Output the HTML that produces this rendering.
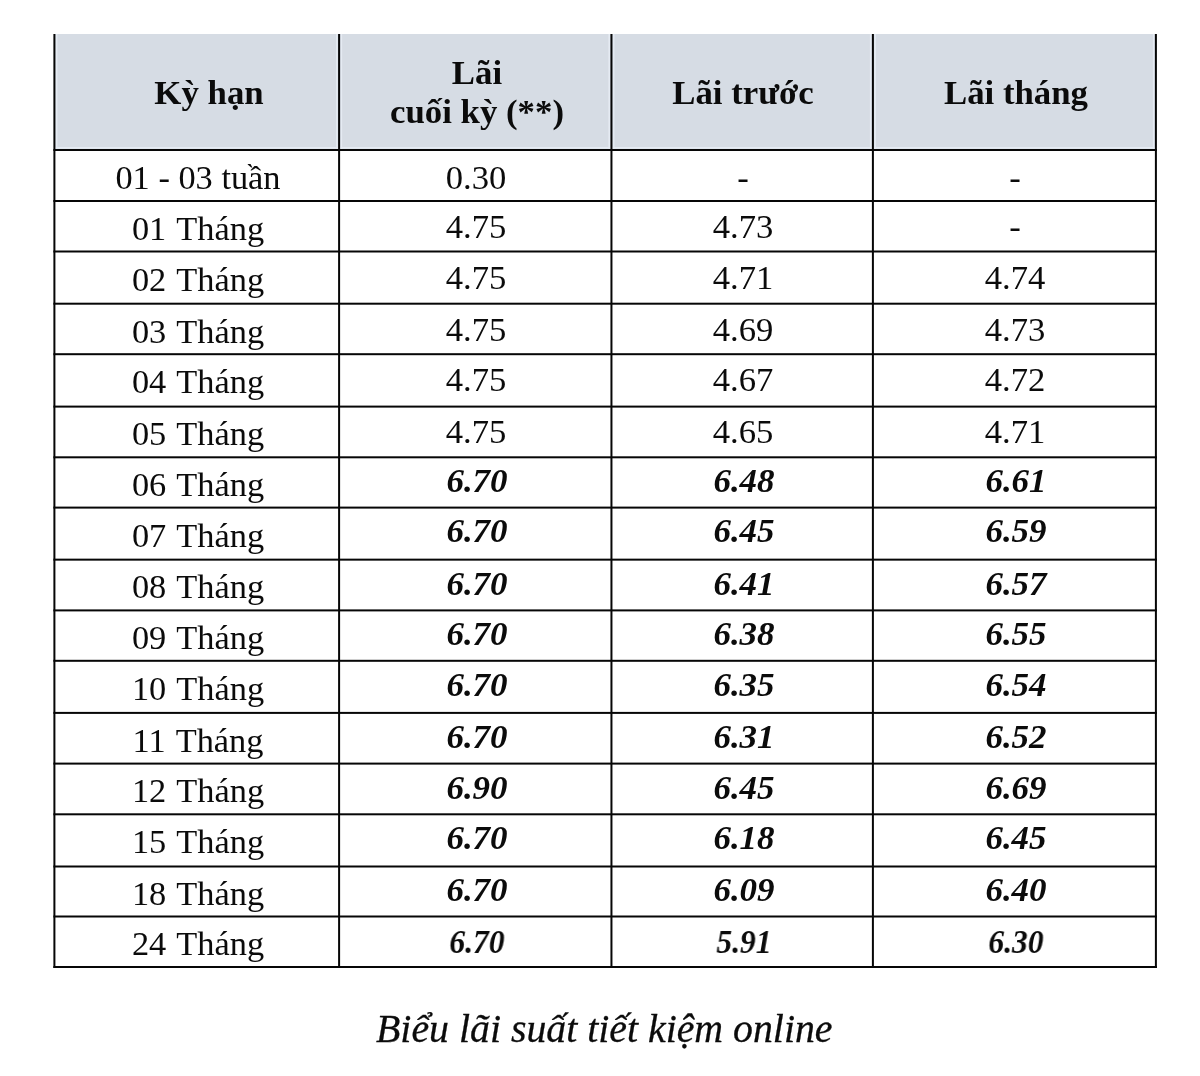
<!DOCTYPE html>
<html lang="vi">
<head>
<meta charset="utf-8">
<title>Biểu lãi suất tiết kiệm online</title>
<style>
html,body{margin:0;padding:0;background:#fff;}
body{width:1200px;height:1076px;position:relative;overflow:hidden;font-family:"Liberation Serif",serif;color:#0b0b0b;}
.t{position:absolute;white-space:nowrap;text-align:center;line-height:1;transform-origin:50% 50%;transform:scaleX(1.04) translateZ(0);will-change:transform;filter:blur(0.3px);font-size:33.3px;}
.c1{word-spacing:2.0px;transform:scaleX(1.032) translateZ(0);}
.c1a{word-spacing:0px;}
.b{font-weight:bold;transform:scaleX(1.045) translateZ(0);}
.bi{font-weight:bold;font-style:italic;transform:scaleX(1.05) translateZ(0);}
.lr{font-size:33.3px;transform:scaleX(0.945) translateZ(0);}
.cap{position:absolute;white-space:nowrap;text-align:center;line-height:1;font-style:italic;transform:translateZ(0);-webkit-text-stroke:0.3px #0b0b0b;font-size:39.8px;}
</style>
</head>
<body>
<svg width="1200" height="1076" viewBox="0 0 1200 1076" style="position:absolute;left:0;top:0">
<rect x="54.40" y="34.00" width="1101.50" height="116.00" fill="#d6dce4"/>
<rect x="55.80" y="34.00" width="1.60" height="116.00" fill="#e5ebf3"/>
<rect x="336.10" y="34.00" width="1.60" height="116.00" fill="#e5ebf3"/>
<rect x="340.50" y="34.00" width="1.60" height="116.00" fill="#e5ebf3"/>
<rect x="608.45" y="34.00" width="1.60" height="116.00" fill="#e5ebf3"/>
<rect x="612.85" y="34.00" width="1.60" height="116.00" fill="#e5ebf3"/>
<rect x="869.90" y="34.00" width="1.60" height="116.00" fill="#e5ebf3"/>
<rect x="874.30" y="34.00" width="1.60" height="116.00" fill="#e5ebf3"/>
<rect x="1152.90" y="34.00" width="1.60" height="116.00" fill="#e5ebf3"/>
<rect x="54.40" y="147.00" width="1101.50" height="1.60" fill="#e5ebf3"/>
<rect x="53.40" y="34.00" width="2.00" height="934.00" fill="#060606"/>
<rect x="338.10" y="34.00" width="2.00" height="934.00" fill="#060606"/>
<rect x="610.45" y="34.00" width="2.00" height="934.00" fill="#060606"/>
<rect x="871.90" y="34.00" width="2.00" height="934.00" fill="#060606"/>
<rect x="1154.90" y="34.00" width="2.00" height="934.00" fill="#060606"/>
<rect x="53.40" y="149.00" width="1103.50" height="2.00" fill="#060606"/>
<rect x="53.40" y="200.00" width="1103.50" height="2.00" fill="#060606"/>
<rect x="53.40" y="250.50" width="1103.50" height="2.00" fill="#060606"/>
<rect x="53.40" y="302.70" width="1103.50" height="2.00" fill="#060606"/>
<rect x="53.40" y="353.20" width="1103.50" height="2.00" fill="#060606"/>
<rect x="53.40" y="405.60" width="1103.50" height="2.00" fill="#060606"/>
<rect x="53.40" y="456.30" width="1103.50" height="2.00" fill="#060606"/>
<rect x="53.40" y="506.60" width="1103.50" height="2.00" fill="#060606"/>
<rect x="53.40" y="558.65" width="1103.50" height="2.00" fill="#060606"/>
<rect x="53.40" y="609.40" width="1103.50" height="2.00" fill="#060606"/>
<rect x="53.40" y="659.80" width="1103.50" height="2.00" fill="#060606"/>
<rect x="53.40" y="711.90" width="1103.50" height="2.00" fill="#060606"/>
<rect x="53.40" y="762.60" width="1103.50" height="2.00" fill="#060606"/>
<rect x="53.40" y="813.30" width="1103.50" height="2.00" fill="#060606"/>
<rect x="53.40" y="865.50" width="1103.50" height="2.00" fill="#060606"/>
<rect x="53.40" y="915.50" width="1103.50" height="2.00" fill="#060606"/>
<rect x="53.40" y="966.00" width="1103.50" height="2.00" fill="#060606"/>
</svg>
<div class="t b" style="left:79.05px;top:76.21px;width:260px">Kỳ hạn</div>
<div class="t b" style="left:347.08px;top:56.41px;width:260px">Lãi</div>
<div class="t b" style="left:347.08px;top:95.11px;width:260px">cuối kỳ (**)</div>
<div class="t b" style="left:613.17px;top:76.21px;width:260px">Lãi trước</div>
<div class="t b" style="left:885.90px;top:76.21px;width:260px">Lãi tháng</div>
<div class="t c1 c1a" style="left:67.55px;top:161.11px;width:260px">01 - 03 tuần</div>
<div class="t " style="left:346.28px;top:161.11px;width:260px">0.30</div>
<div class="t " style="left:612.67px;top:161.11px;width:260px">-</div>
<div class="t " style="left:885.00px;top:161.11px;width:260px">-</div>
<div class="t c1" style="left:67.55px;top:212.11px;width:260px">01 Tháng</div>
<div class="t " style="left:346.28px;top:210.11px;width:260px">4.75</div>
<div class="t " style="left:612.67px;top:210.11px;width:260px">4.73</div>
<div class="t " style="left:885.00px;top:210.11px;width:260px">-</div>
<div class="t c1" style="left:67.55px;top:263.11px;width:260px">02 Tháng</div>
<div class="t " style="left:346.28px;top:261.11px;width:260px">4.75</div>
<div class="t " style="left:612.67px;top:261.11px;width:260px">4.71</div>
<div class="t " style="left:885.00px;top:261.11px;width:260px">4.74</div>
<div class="t c1" style="left:67.55px;top:315.11px;width:260px">03 Tháng</div>
<div class="t " style="left:346.28px;top:313.11px;width:260px">4.75</div>
<div class="t " style="left:612.67px;top:313.11px;width:260px">4.69</div>
<div class="t " style="left:885.00px;top:313.11px;width:260px">4.73</div>
<div class="t c1" style="left:67.55px;top:365.11px;width:260px">04 Tháng</div>
<div class="t " style="left:346.28px;top:363.11px;width:260px">4.75</div>
<div class="t " style="left:612.67px;top:363.11px;width:260px">4.67</div>
<div class="t " style="left:885.00px;top:363.11px;width:260px">4.72</div>
<div class="t c1" style="left:67.55px;top:417.11px;width:260px">05 Tháng</div>
<div class="t " style="left:346.28px;top:415.11px;width:260px">4.75</div>
<div class="t " style="left:612.67px;top:415.11px;width:260px">4.65</div>
<div class="t " style="left:885.00px;top:415.11px;width:260px">4.71</div>
<div class="t c1" style="left:67.55px;top:468.11px;width:260px">06 Tháng</div>
<div class="t bi" style="left:347.48px;top:464.11px;width:260px">6.70</div>
<div class="t bi" style="left:613.88px;top:464.11px;width:260px">6.48</div>
<div class="t bi" style="left:886.20px;top:464.11px;width:260px">6.61</div>
<div class="t c1" style="left:67.55px;top:519.11px;width:260px">07 Tháng</div>
<div class="t bi" style="left:347.48px;top:514.11px;width:260px">6.70</div>
<div class="t bi" style="left:613.88px;top:514.11px;width:260px">6.45</div>
<div class="t bi" style="left:886.20px;top:514.11px;width:260px">6.59</div>
<div class="t c1" style="left:67.55px;top:570.11px;width:260px">08 Tháng</div>
<div class="t bi" style="left:347.48px;top:567.11px;width:260px">6.70</div>
<div class="t bi" style="left:613.88px;top:567.11px;width:260px">6.41</div>
<div class="t bi" style="left:886.20px;top:567.11px;width:260px">6.57</div>
<div class="t c1" style="left:67.55px;top:621.11px;width:260px">09 Tháng</div>
<div class="t bi" style="left:347.48px;top:617.11px;width:260px">6.70</div>
<div class="t bi" style="left:613.88px;top:617.11px;width:260px">6.38</div>
<div class="t bi" style="left:886.20px;top:617.11px;width:260px">6.55</div>
<div class="t c1" style="left:67.55px;top:672.11px;width:260px">10 Tháng</div>
<div class="t bi" style="left:347.48px;top:668.11px;width:260px">6.70</div>
<div class="t bi" style="left:613.88px;top:668.11px;width:260px">6.35</div>
<div class="t bi" style="left:886.20px;top:668.11px;width:260px">6.54</div>
<div class="t c1" style="left:67.55px;top:724.11px;width:260px">11 Tháng</div>
<div class="t bi" style="left:347.48px;top:720.11px;width:260px">6.70</div>
<div class="t bi" style="left:613.88px;top:720.11px;width:260px">6.31</div>
<div class="t bi" style="left:886.20px;top:720.11px;width:260px">6.52</div>
<div class="t c1" style="left:67.55px;top:774.11px;width:260px">12 Tháng</div>
<div class="t bi" style="left:347.48px;top:771.11px;width:260px">6.90</div>
<div class="t bi" style="left:613.88px;top:771.11px;width:260px">6.45</div>
<div class="t bi" style="left:886.20px;top:771.11px;width:260px">6.69</div>
<div class="t c1" style="left:67.55px;top:825.11px;width:260px">15 Tháng</div>
<div class="t bi" style="left:347.48px;top:821.11px;width:260px">6.70</div>
<div class="t bi" style="left:613.88px;top:821.11px;width:260px">6.18</div>
<div class="t bi" style="left:886.20px;top:821.11px;width:260px">6.45</div>
<div class="t c1" style="left:67.55px;top:877.11px;width:260px">18 Tháng</div>
<div class="t bi" style="left:347.48px;top:873.11px;width:260px">6.70</div>
<div class="t bi" style="left:613.88px;top:873.11px;width:260px">6.09</div>
<div class="t bi" style="left:886.20px;top:873.11px;width:260px">6.40</div>
<div class="t c1" style="left:67.55px;top:927.11px;width:260px">24 Tháng</div>
<div class="t bi lr" style="left:347.48px;top:925.11px;width:260px">6.70</div>
<div class="t bi lr" style="left:613.88px;top:925.11px;width:260px">5.91</div>
<div class="t bi lr" style="left:886.20px;top:925.11px;width:260px">6.30</div>
<div class="cap" style="left:204.30px;top:1009.87px;width:800px">Biểu lãi suất tiết kiệm online</div>
</body>
</html>
